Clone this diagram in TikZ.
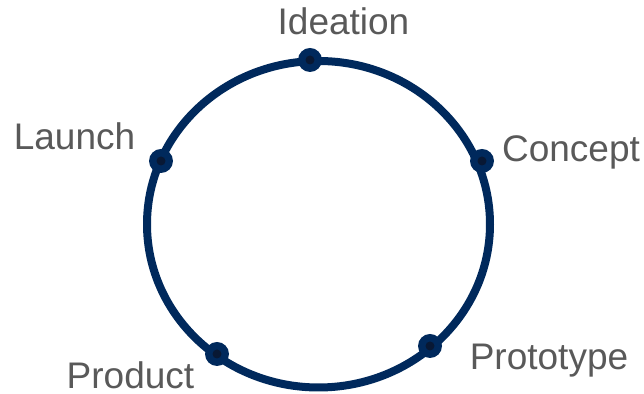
\documentclass[tikz,border=0pt]{standalone}
\usepackage{fontspec}
\setmainfont{Liberation Sans}
\definecolor{ringblue}{RGB}{0,41,92}
\definecolor{dotcore}{RGB}{8,24,52}
\definecolor{labelgray}{RGB}{89,89,89}

\begin{document}
\begin{tikzpicture}[x=0.5pt, y=-0.5pt,
  ring/.style = {draw=ringblue, line width=4pt},
  stage/.style = {circle, fill=ringblue, minimum size=12pt, inner sep=0pt},
  core/.style = {circle, fill=dotcore, minimum size=4.5pt, inner sep=0pt},
  caption/.style = {text=labelgray, anchor=base, inner sep=0pt,
    font=\fontsize{18.5}{22}\selectfont}]
  \useasboundingbox (0,0) rectangle (644,394);
  \draw[ring] (318.5,224.25) ellipse [x radius=171.5, y radius=163.25];
  \node[stage] (ideation) at (310,60) {};
  \node[core] at (ideation) {};
  \node[stage] (concept) at (482,161) {};
  \node[core] at (concept) {};
  \node[stage] (prototype) at (430,346) {};
  \node[core] at (prototype) {};
  \node[stage] (product) at (217,354) {};
  \node[core] at (product) {};
  \node[stage] (launch) at (161,161) {};
  \node[core] at (launch) {};
  \node[caption] (ideation-text) at (343.5,35) {Ideation};
  \node[caption] (concept-text) at (571,162) {Concept};
  \node[caption] (prototype-text) at (549,370) {Prototype};
  \node[caption] (product-text) at (130.5,389) {Product};
  \node[caption] (launch-text) at (74.5,150) {Launch};
\end{tikzpicture}
\end{document}
